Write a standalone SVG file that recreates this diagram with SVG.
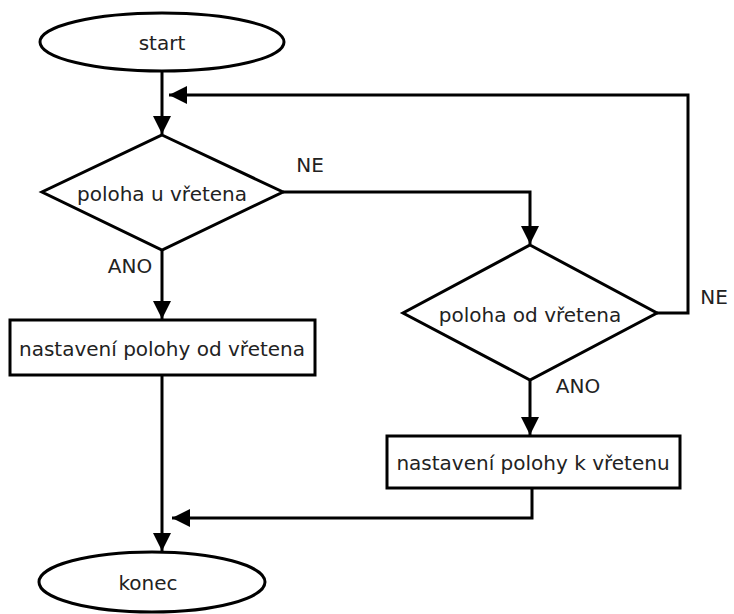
<svg xmlns="http://www.w3.org/2000/svg" width="734" height="614" viewBox="0 0 734 614">
  <style>
    .shape { fill: #ffffff; stroke: #000000; stroke-width: 3; }
    .wire { fill: none; stroke: #000000; stroke-width: 3; }
    .label { font-family: "DejaVu Sans", "Liberation Sans", sans-serif; font-size: 20px; fill: #222222; text-anchor: middle; dominant-baseline: central; }
  </style>
  <defs>
    <marker id="arrow" viewBox="0 0 10 10" refX="10" refY="5" markerWidth="6.5" markerHeight="6" markerUnits="strokeWidth" orient="auto">
      <path d="M0,0 L10,5 L0,10 Z" fill="#000000"/>
    </marker>
  </defs>
  <rect width="734" height="614" fill="#ffffff"/>

  <g id="connectors">
    <path class="wire" d="M162,71 V134" marker-end="url(#arrow)"/>
    <path class="wire" d="M657,313 H688 V95 H169" marker-end="url(#arrow)"/>
    <path class="wire" d="M283,192 H530 V244" marker-end="url(#arrow)"/>
    <path class="wire" d="M162,250 V319" marker-end="url(#arrow)"/>
    <path class="wire" d="M530,380 V435" marker-end="url(#arrow)"/>
    <path class="wire" d="M162,376 V551" marker-end="url(#arrow)"/>
    <path class="wire" d="M532,489 V518 H172" marker-end="url(#arrow)"/>
  </g>

  <g id="start">
    <ellipse class="shape" cx="162" cy="42" rx="122" ry="29"/>
    <text class="label" x="162" y="43">start</text>
  </g>

  <g id="decision-u-vretena">
    <polygon class="shape" points="162,135 283,192 162,250 42,192"/>
    <text class="label" x="162" y="194">poloha u vřetena</text>
  </g>

  <g id="decision-od-vretena">
    <polygon class="shape" points="530,245 657,313 530,380 403,313"/>
    <text class="label" x="530" y="315">poloha od vřetena</text>
  </g>

  <g id="set-od-vretena">
    <rect class="shape" x="10" y="320" width="305" height="55"/>
    <text class="label" x="162" y="349">nastavení polohy od vřetena</text>
  </g>

  <g id="set-k-vretenu">
    <rect class="shape" x="387" y="436" width="293" height="52"/>
    <text class="label" x="533" y="463">nastavení polohy k vřetenu</text>
  </g>

  <g id="konec">
    <ellipse class="shape" cx="152" cy="582" rx="113" ry="30"/>
    <text class="label" x="148" y="583">konec</text>
  </g>

  <g id="branch-labels">
    <text class="label" x="310" y="165">NE</text>
    <text class="label" x="130" y="266">ANO</text>
    <text class="label" x="714" y="297">NE</text>
    <text class="label" x="578" y="386">ANO</text>
  </g>
</svg>
